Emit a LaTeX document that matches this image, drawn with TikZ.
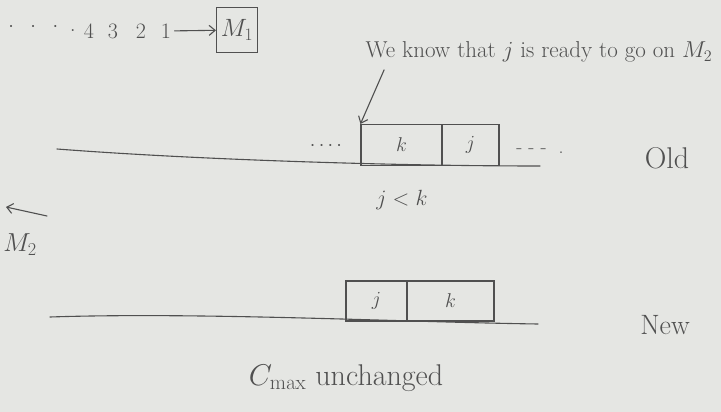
\RequirePackage{fix-cm}
\documentclass[tikz,border=0pt]{standalone}
\usepackage{amsmath}
\usetikzlibrary{positioning,arrows.meta}
\definecolor{paper}{RGB}{229,230,227}
\definecolor{ink}{RGB}{80,80,80}

\begin{document}
\begin{tikzpicture}[
    x=1pt,y=-1pt,
    every node/.style={text=ink,font=\fontsize{20}{24}\selectfont},
    pen/.style={ink,line width=1.1pt,line cap=round},
    job/.style={draw=ink,line width=1.1pt,minimum height=41pt,inner sep=0pt},
    tip/.style={-{Straight Barb[length=6pt,width=10pt]}},
  ]
  \useasboundingbox (0,0) rectangle (721,412);
  \fill[paper] (0,0) rectangle (721,412);

  % queue in front of M1
  \node (qdots) at (42,27) {$\cdot\ \ \cdot\ \ \cdot\ \ .$};
  \foreach \n/\xx in {4/89,3/113,2/141,1/166} {
    \node[font=\fontsize{22}{26}\selectfont] (q\n) at (\xx,31) {\n};
  }
  \node[draw=ink,line width=1.1pt,minimum width=41pt,minimum height=45pt,inner sep=0pt,font=\fontsize{25}{30}\selectfont] (mone) at (237,30) {$M_1$};
  \draw[pen,tip] (q1) -- (mone);

  % M2 runs leftwards
  \coordinate (mtail) at (47,216);
  \coordinate (mhead) at (6,207);
  \draw[pen,tip] (mtail) -- (mhead);
  \node[font=\fontsize{26}{30}\selectfont] (mtwo) at (20,245) {$M_2$};

  % old schedule
  \draw[pen] (57,149) .. controls (200,160) and (400,166) .. (540,166);
  \node[job,minimum width=81pt] (oldk) at (401.5,145) {$k$};
  \node[job,minimum width=57pt,right=-1.1pt of oldk] (oldj) {$j$};
  \node (dotl) at (326,146) {$\cdots\cdot$};
  \node (dotr) at (540,151) {- - -\ \ .};
  \node[font=\fontsize{22}{26}\selectfont] (ineq) at (402,200) {$j<k$};
  \node[font=\fontsize{30}{36}\selectfont] (oldlab) at (667,158) {Old};
  \node[font=\fontsize{23}{27}\selectfont] (note) at (539,52) {We know that $j$ is ready to go on $M_2$};
  \draw[pen,tip] ([xshift=22pt,yshift=-4pt]note.south west) -- (oldk.north west);

  % new schedule
  \draw[pen] (50,317) .. controls (200,312) and (400,322) .. (538,324);
  \node[job,minimum width=61pt,minimum height=40pt] (newj) at (376.5,301) {$j$};
  \node[job,minimum width=87pt,minimum height=40pt,right=-1.1pt of newj] (newk) {$k$};
  \node[font=\fontsize{28}{34}\selectfont] (newlab) at (665,325) {New};
  \node[font=\fontsize{30}{36}\selectfont] (cmax) at (346,378) {$C_{\max}$ unchanged};
\end{tikzpicture}
\end{document}
